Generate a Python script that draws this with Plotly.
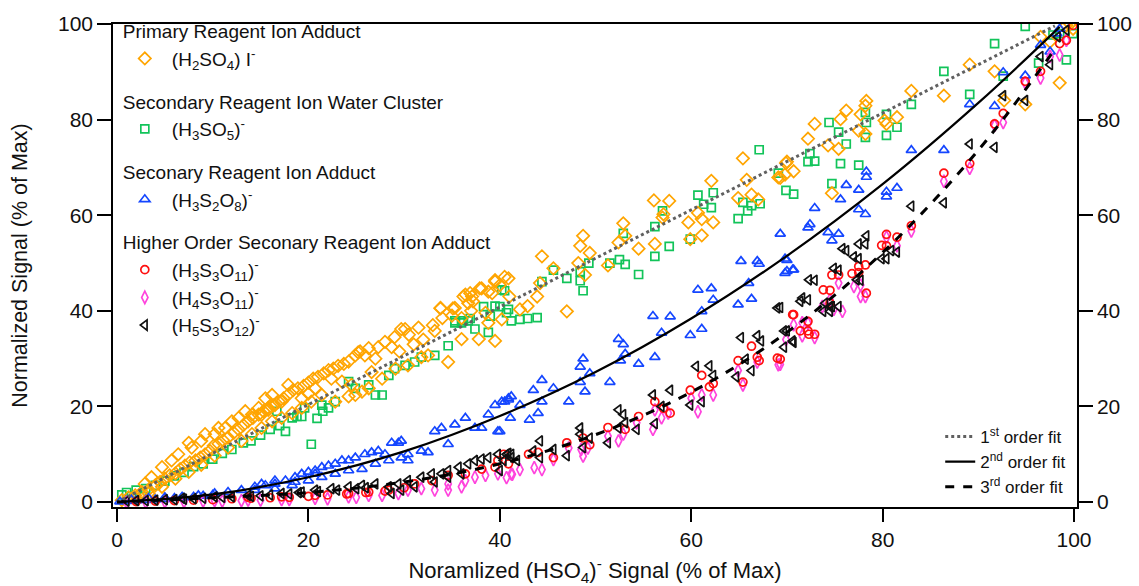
import plotly.graph_objects as go

# ---------------- data ----------------
orange_x = [0.5,1.2,1.9,2.6,3.3,4.0,4.5,5.0,5.5,6.1,6.6,7.1,7.6,8.2,8.7,9.2,9.7,10.1,10.6,11.1,11.6,12.2,12.7,13.2,13.7,14.2,14.8,15.3,15.8,16.3,16.9,17.4,17.9,18.4,18.9,19.5,20.0,20.5,21.0,21.6,22.1,22.6,23.1,23.7,24.2,24.9,25.4,26.3,27.3,28.7,29.7,30.1,33.2,35.3,36.4,37.1,38.1,39.5,40.5,
            1.9,3.3,4.7,6.1,7.5,8.8,10.2,11.6,13.0,14.1,15.1,16.2,17.2,18.3,19.3,20.3,21.4,22.8,24.2,24.9,25.6,26.3,27.7,29.1,30.4,31.8,32.5,34.6,36.0,37.8,39.5,40.2,38.5,38.8,36.7,39.2,
            20.0,19.3,20.7,22.4,23.5,24.5,26.6,25.2,25.9,16.5,15.8,15.1,17.2,17.9,16.2,15.5,14.8,14.1,13.4,12.7,12.0,11.3,10.6,10.2,9.2,8.8,7.8,7.5,6.4,5.7,4.7,3.6,2.9,
            29.0,30.5,31.5,32.0,33.0,34.0,31.0,28.0,27.0,29.5,33.8,35.0,36.0,37.0,
            33.8,35.1,36.2,36.9,37.2,37.9,38.8,39.5,40.0,40.9,41.0,42.1,42.9,43.9,44.2,44.4,45.6,47.0,48.4,48.7,48.2,48.9,49.4,51.3,52.4,52.9,53.1,54.5,56.1,56.2,57.0,57.1,57.7,59.7,59.9,60.7,61.1,61.1,62.1,62.3,64.9,65.4,65.8,66.3,67.0,69.1,69.9,70.7,
            69.3,69.8,70.0,72.2,72.9,74.3,75.4,75.6,76.2,77.5,77.7,78.2,78.2,78.3,80.2,80.4,81.5,74.7,83.0,86.4,89.1,91.7,94.9,92.7,96.5,97.5,98.5,99.2,99.9,99.6]
orange_y = [0.4,1.0,1.4,2.1,2.6,3.5,4.2,4.9,5.6,6.0,6.9,7.6,8.3,8.7,9.3,10.0,10.7,11.8,12.2,12.9,13.5,14.5,15.2,16.1,16.9,17.6,18.3,19.0,19.7,20.3,21.0,21.7,22.5,23.4,23.8,24.3,25.0,25.8,26.2,26.9,27.6,27.9,28.5,28.9,29.4,30.7,31.5,32.2,32.4,32.4,36.2,36.2,35.8,40.6,43.4,43.0,44.7,46.1,47.1,
            0.8,1.8,3.2,4.9,6.3,7.8,9.7,11.4,12.8,14.2,15.5,16.9,17.6,18.6,19.7,21.0,22.4,21.0,22.1,22.4,23.1,23.8,25.8,27.9,28.6,30.3,30.7,29.3,34.1,34.1,33.7,38.2,39.6,37.5,41.6,43.7,
            22.7,21.7,23.8,25.8,25.2,24.5,27.2,31.3,30.7,20.3,19.3,18.3,21.0,24.5,22.4,21.7,19.7,18.3,19.0,17.6,16.9,15.5,15.5,14.2,14.2,12.8,11.4,12.4,10.0,8.7,7.3,5.2,3.8,
            34.5,35.0,36.5,34.0,37.0,38.5,33.0,33.5,30.0,31.5,40.6,39.0,38.5,40.0,
            40.5,40.5,43.0,43.7,42.0,44.7,44.0,46.4,45.4,46.8,43.0,40.3,41.0,43.0,45.8,51.4,48.9,39.9,53.6,55.7,50.0,47.5,52.1,49.5,54.3,58.3,55.7,53.0,63.1,54.0,59.5,60.2,63.0,58.5,55.0,60.5,55.8,59.2,67.2,58.5,63.6,71.9,67.4,64.3,63.3,67.9,70.9,69.2,
            67.8,68.5,71.2,76.0,79.1,74.6,73.9,80.1,81.9,77.7,81.1,77.0,82.9,83.9,79.8,79.1,80.5,64.6,86.0,85.0,91.5,90.1,83.2,84.0,97.3,96.3,87.7,99.7,99.0,100.0]

green_x = [0.5,1.0,1.5,2.0,3.0,4.0,5.0,6.0,7.0,8.0,9.0,10.0,11.0,12.0,13.2,14.0,15.0,16.0,16.7,17.0,18.8,20.9,21.5,
           17.6,18.3,19.3,19.6,21.4,22.1,22.8,24.2,24.9,26.3,27.0,27.7,28.4,29.0,30.1,31.1,31.8,33.2,34.6,35.3,36.0,36.7,37.4,38.8,39.5,40.2,40.9,41.2,20.3,
           35.3,36.2,36.9,38.3,39.0,40.0,40.5,40.7,42.1,42.9,43.9,44.4,45.6,47.0,48.4,48.4,48.7,49.3,51.5,52.5,52.9,53.1,54.5,56.2,56.2,57.0,57.7,59.9,60.7,61.3,62.1,62.3,64.9,65.4,65.9,66.3,67.2,67.1,69.1,69.9,70.7,
           72.2,72.9,72.4,74.4,75.4,75.6,74.7,76.2,77.5,78.2,78.2,78.3,80.4,80.4,81.5,83.0,86.4,89.1,91.7,92.6,94.9,96.3,97.8,98.5,99.2,99.9]
green_y = [1.5,2.0,1.2,2.5,2.8,3.5,4.4,5.5,6.2,7.4,8.0,9.0,10.2,11.0,12.4,12.8,14.0,15.2,19.0,16.0,17.9,17.5,19.0,
           14.8,17.6,17.9,19.7,20.3,19.7,21.0,25.2,23.8,24.5,22.4,22.4,26.5,27.9,28.6,29.3,30.3,30.7,32.7,37.5,37.5,37.9,36.2,35.5,41.0,44.4,40.3,37.9,12.1,
           37.9,37.9,38.4,40.9,38.9,40.9,44.2,39.6,38.2,38.4,38.6,46.1,48.5,46.8,48.2,46.3,44.2,50.0,50.0,50.7,56.2,49.7,47.6,51.4,57.6,60.9,53.5,55.0,64.2,62.3,61.6,64.7,59.3,62.7,60.9,62.0,62.4,73.7,68.8,65.2,64.4,
           71.2,71.3,72.9,79.4,77.4,70.8,66.6,74.9,70.5,76.3,81.5,79.4,81.1,76.7,78.4,83.2,90.1,85.3,95.9,89.1,99.5,91.8,97.7,98.0,92.5,98.0]

blue_x = [0.3,1.0,2.0,3.0,4.0,5.0,6.0,7.0,8.0,9.0,10.0,
          1.5,3.3,5.0,6.8,8.5,10.2,11.6,13.0,14.4,15.5,16.5,17.6,18.6,19.3,20.0,20.7,21.4,22.1,22.8,23.5,24.2,24.9,25.9,26.6,27.3,28.0,28.7,29.4,29.7,30.4,30.4,31.8,32.5,33.2,33.9,34.6,35.3,36.4,37.4,38.1,38.8,39.5,40.2,40.9,41.2,39.8,
          14.4,16.5,18.3,20.0,21.4,22.8,24.2,25.6,27.0,28.4,29.7,20.7,18.6,16.5,15.1,
          40.0,40.5,40.9,41.1,42.1,43.1,43.5,44.0,44.4,44.4,45.6,47.2,48.4,48.7,48.4,48.9,49.4,51.5,52.4,52.9,52.6,53.1,54.5,56.2,56.0,56.9,57.8,59.9,61.1,61.1,60.7,62.1,62.3,64.9,65.2,66.0,66.3,66.9,67.1,69.8,69.8,70.6,
          69.3,70.0,70.0,70.7,72.2,72.4,72.9,74.3,74.7,75.4,75.6,76.2,77.5,77.5,78.2,78.3,78.3,80.4,80.4,81.5,83.0,86.4,89.1,91.7,92.6,94.9,96.5,97.5,98.5,98.2]
blue_y = [0.1,0.2,0.3,0.4,0.5,0.6,0.8,0.9,1.1,1.3,1.5,
          0.5,0.8,1.0,1.1,1.4,1.8,2.1,2.5,3.2,3.5,3.8,4.5,5.2,5.9,6.3,6.6,7.3,7.6,8.0,8.7,8.7,9.3,10.0,10.4,10.7,10.0,12.4,12.4,12.8,10.0,8.7,10.7,10.4,14.8,15.5,12.1,16.2,17.6,15.5,15.5,18.3,20.3,21.0,21.7,22.1,14.8,
          2.5,2.8,3.5,4.5,5.2,5.9,6.6,6.9,8.0,8.7,9.3,5.9,4.2,4.5,3.8,
          14.8,21.0,21.4,17.6,20.3,17.2,23.4,18.6,21.0,25.5,23.8,21.0,28.3,30.0,25.1,23.1,26.9,25.1,34.1,33.0,29.6,31.0,28.9,30.3,38.9,35.4,38.8,34.9,36.2,39.9,44.4,44.7,42.3,41.3,50.4,45.8,42.5,50.4,49.8,50.9,47.9,48.6,
          56.1,50.6,48.3,48.6,57.4,58.1,61.5,56.4,54.7,56.1,63.3,66.3,65.3,61.2,60.2,69.1,68.0,64.9,63.9,65.7,73.6,73.6,83.2,82.8,89.9,89.2,95.6,94.2,99.0,98.0]

red_x = [2.0,4.0,6.0,8.0,10.0,12.0,14.0,16.0,18.0,20.0,22.0,24.0,26.0,28.0,30.0,
         28.4,31.1,32.9,34.6,36.4,38.1,39.5,40.9,39.8,20.7,24.2,17.2,13.7,26.3,
         40.4,43.0,44.0,45.6,47.0,48.7,49.4,51.3,53.1,54.5,56.2,57.1,57.8,59.9,61.1,61.9,62.3,64.9,65.4,66.3,66.9,67.1,69.0,70.6,71.4,72.3,73.8,74.7,76.8,77.5,79.9,
         69.3,70.7,72.2,72.2,72.9,74.5,74.5,75.4,77.5,78.2,78.3,80.4,80.4,81.5,83.0,86.4,89.1,91.7,92.6,94.9,96.5,98.5,99.2,99.9]
red_y = [0.1,0.2,0.3,0.4,0.5,0.7,0.8,0.9,1.0,1.2,1.5,1.7,2.0,2.3,3.0,
         2.5,3.8,4.5,5.6,5.9,6.9,7.3,8.0,8.7,1.4,1.8,1.1,1.0,2.1,
         10.0,10.0,10.4,9.3,12.4,13.4,12.0,15.6,15.2,17.9,21.0,19.6,18.6,23.4,26.5,24.1,24.8,29.6,25.1,32.6,30.3,29.6,30.1,39.2,35.8,35.1,44.4,47.5,47.8,49.3,53.7,
         29.9,39.2,37.8,35.8,35.1,44.3,41.6,47.5,48.0,49.6,43.7,56.0,53.6,55.4,57.8,68.8,70.8,79.1,81.3,88.0,90.1,95.9,96.6,99.7]

pink_x = [1.0,3.0,5.0,7.0,9.0,11.0,13.0,15.0,18.0,22.0,25.0,
          24.2,26.3,27.7,29.4,30.4,31.8,33.2,34.6,36.4,37.4,38.5,39.8,41.2,34.6,36.0,20.7,17.2,13.7,10.2,
          40.7,41.3,42.1,43.6,44.4,45.6,47.2,48.5,48.7,49.2,51.3,52.4,52.9,54.3,56.0,56.2,56.9,57.6,60.0,60.7,61.1,62.3,64.9,65.4,66.9,69.1,69.9,71.6,71.6,73.7,74.9,75.8,77.0,77.7,
          69.3,70.7,72.2,72.9,74.5,75.4,77.7,78.2,80.4,81.5,83.0,86.4,89.1,91.7,92.6,94.9,96.5,97.5,98.5,99.2]
pink_y = [0.0,0.0,0.1,0.1,0.2,0.2,0.3,0.4,0.5,0.7,1.0,
          1.1,1.4,1.4,1.8,2.5,2.8,2.5,3.8,4.5,5.2,5.6,5.9,5.9,2.5,3.2,0.8,0.5,0.4,0.3,
          5.1,5.8,6.8,7.2,6.8,8.9,11.3,11.0,9.6,11.3,13.8,12.8,14.2,16.6,15.2,19.3,17.6,18.6,21.7,18.9,22.4,22.4,27.5,24.5,29.3,28.7,34.0,34.8,37.5,40.9,40.3,39.9,45.1,43.0,
          28.8,37.1,37.4,34.4,42.3,45.8,45.4,43.0,55.4,53.6,56.7,67.1,69.8,78.8,79.4,87.7,88.7,93.2,93.5,96.6]

black_x = [1.0,2.0,3.0,4.0,5.0,6.0,7.0,8.0,9.0,11.0,12.0,14.0,15.0,16.0,18.0,19.0,21.0,23.0,25.0,26.0,
           6.8,10.2,13.7,17.2,19.3,20.7,22.4,24.2,25.6,27.0,28.4,29.4,30.4,31.8,32.9,33.9,34.6,35.7,36.7,37.4,38.1,38.8,39.8,40.9,41.2,34.6,36.0,33.2,31.1,29.7,28.7,
           40.0,40.4,40.7,41.2,41.8,43.5,44.2,44.2,45.6,47.0,48.4,48.4,48.7,49.4,51.3,52.4,52.4,52.9,53.1,54.3,56.0,56.2,56.9,57.8,59.9,60.5,61.1,61.9,62.3,64.7,65.2,65.7,66.3,66.9,67.3,69.0,69.7,69.7,70.6,71.4,71.6,72.3,74.0,73.8,74.7,74.9,75.8,77.0,77.3,77.5,79.9,80.9,
           69.3,70.0,70.7,72.2,72.9,74.5,74.5,75.4,75.4,76.2,77.5,77.7,78.2,78.3,80.4,81.5,83.0,86.4,89.1,91.7,92.6,94.9,96.5,97.5,98.3,99.2]
black_y = [0.2,0.3,0.3,0.4,0.5,0.5,0.6,0.7,0.8,1.0,1.1,1.2,1.3,1.5,1.7,2.0,2.2,2.5,2.8,3.0,
           0.8,1.1,1.4,1.8,2.1,2.5,2.8,3.2,3.5,3.8,3.2,3.8,4.5,5.2,5.9,5.9,6.6,7.3,8.0,8.7,9.0,9.3,10.0,10.2,9.3,5.2,5.9,4.2,3.2,2.5,1.8,
           6.6,8.7,10.0,10.0,8.7,10.7,12.8,9.3,11.0,9.7,15.5,14.2,11.4,13.4,12.4,19.3,15.5,18.3,16.6,15.2,22.4,16.4,20.0,23.4,20.3,28.4,21.0,28.5,26.5,26.2,34.4,29.9,27.5,34.8,33.7,40.6,35.8,32.4,33.7,42.0,42.7,46.5,41.6,39.9,40.9,48.9,53.0,51.3,46.5,54.0,50.9,52.6,
           40.7,35.8,33.4,42.3,46.4,40.9,39.9,48.5,40.9,52.6,50.9,46.4,54.0,55.7,50.9,52.3,61.9,62.6,74.9,74.2,85.0,84.0,93.2,91.5,97.3,98.7]

fit1_x = [0, 50, 98]
fit1_y = [0, 51.0, 99.6]
fit2_x = [0, 10, 20, 30, 40, 50, 60, 70, 80, 90, 98.5]
fit2_y = [0, 1.6, 5.2, 10.6, 18.0, 27.2, 38.4, 51.5, 66.5, 83.5, 99.4]
fit3_x = [0, 10, 20, 30, 40, 50, 60, 70, 80, 90, 98.2]
fit3_y = [0, 0.9, 2.0, 4.2, 8.0, 14.1, 23.0, 35.5, 52.2, 73.6, 95.3]

tick_vals = [0, 20, 40, 60, 80, 100]

FONT = "Liberation Sans, Arial, sans-serif"
ORANGE = "#FFA500"
GREEN = "#12C45A"
BLUE = "#1446FF"
RED = "#FF1010"
PINK = "#FF44DD"
BLACK = "#111111"

fig = go.Figure()

def pts(x, y, name, color, symbol, size, group, gtitle, rank, width=1.7):
    return go.Scatter(
        x=x, y=y, mode="markers", name=name,
        marker=dict(symbol=symbol, size=size, color=color,
                    line=dict(color=color, width=width)),
        legendgroup=group, legendgrouptitle_text=gtitle, legendrank=rank,
        legend="legend",
    )

fig.add_trace(pts(green_x, green_y, "(H<sub>3</sub>SO<sub>5</sub>)<sup>-</sup>", GREEN,
                  "square-open", 8, "g2", "Secondary Reagent Ion Water Cluster", 2))
fig.add_trace(pts(orange_x, orange_y, "(H<sub>2</sub>SO<sub>4</sub>) I<sup>-</sup>", ORANGE,
                  "diamond-open", 9.5, "g1", "Primary Reagent Ion Adduct", 1))
fig.add_trace(pts(blue_x, blue_y, "(H<sub>3</sub>S<sub>2</sub>O<sub>8</sub>)<sup>-</sup>", BLUE,
                  "triangle-up-open", 9, "g3", "Seconary Reagent Ion Adduct", 3))
fig.add_trace(pts(pink_x, pink_y, "(H<sub>4</sub>S<sub>3</sub>O<sub>11</sub>)<sup>-</sup>", PINK,
                  "diamond-tall-open", 9, "g4", "Higher Order Seconary Reagent Ion Adduct", 5))
fig.add_trace(pts(red_x, red_y, "(H<sub>3</sub>S<sub>3</sub>O<sub>11</sub>)<sup>-</sup>", RED,
                  "circle-open", 8, "g4", "Higher Order Seconary Reagent Ion Adduct", 4))
fig.add_trace(pts(black_x, black_y, "(H<sub>5</sub>S<sub>3</sub>O<sub>12</sub>)<sup>-</sup>", BLACK,
                  "triangle-left-open", 9, "g4", "Higher Order Seconary Reagent Ion Adduct", 6))

fig.add_trace(go.Scatter(x=fit1_x, y=fit1_y, mode="lines", name="1<sup>st</sup> order fit",
                         line=dict(color="#606060", width=3, dash="dot"),
                         legend="legend2", legendrank=1))
fig.add_trace(go.Scatter(x=fit2_x, y=fit2_y, mode="lines", name="2<sup>nd</sup> order fit",
                         line=dict(color="black", width=2.2, shape="spline"),
                         legend="legend2", legendrank=2))
fig.add_trace(go.Scatter(x=fit3_x, y=fit3_y, mode="lines", name="3<sup>rd</sup> order fit",
                         line=dict(color="black", width=3, dash="dash", shape="spline"),
                         legend="legend2", legendrank=3))
# dummy trace to carry right-hand axis
fig.add_trace(go.Scatter(x=[None], y=[None], yaxis="y2", showlegend=False, hoverinfo="skip"))

axis_common = dict(
    showgrid=False, zeroline=False, showline=True, linecolor="black", linewidth=1.5,
    ticks="outside", tickwidth=1.5, tickcolor="black",
    tickfont=dict(family=FONT, size=21, color="#111"),
    tickvals=tick_vals, automargin=False,
)

fig.update_layout(
    width=1139, height=586,
    margin=dict(l=113, r=62, t=17, b=79),
    plot_bgcolor="white", paper_bgcolor="white",
    font=dict(family=FONT, color="#111"),
    xaxis=dict(range=[-0.42, 100.31], mirror=True, ticklen=13,
               title=dict(text="Noramlized (HSO<sub>4</sub>)<sup>-</sup> Signal (% of Max)",
                          font=dict(family=FONT, size=22), standoff=18),
               **axis_common),
    yaxis=dict(range=[-1.03, 100.0], ticklen=14,
               title=dict(text="Normalized Signal (% of Max)",
                          font=dict(family=FONT, size=21.5), standoff=24),
               **axis_common),
    yaxis2=dict(range=[-1.03, 100.0], overlaying="y", side="right", ticklen=14,
                **axis_common),
    legend=dict(x=0.005, y=1.025, xanchor="left", yanchor="top",
                bgcolor="rgba(0,0,0,0)", font=dict(family=FONT, size=19, color="#111"),
                grouptitlefont=dict(family=FONT, size=19, color="#111"),
                traceorder="grouped", tracegroupgap=15, itemwidth=44,
                maxheight=560),
    legend2=dict(x=0.994, y=0.004, xanchor="right", yanchor="bottom",
                 bgcolor="rgba(0,0,0,0)", font=dict(family=FONT, size=17, color="#111"),
                 tracegroupgap=0),
    showlegend=True,
)

fig.write_html("out.html")
